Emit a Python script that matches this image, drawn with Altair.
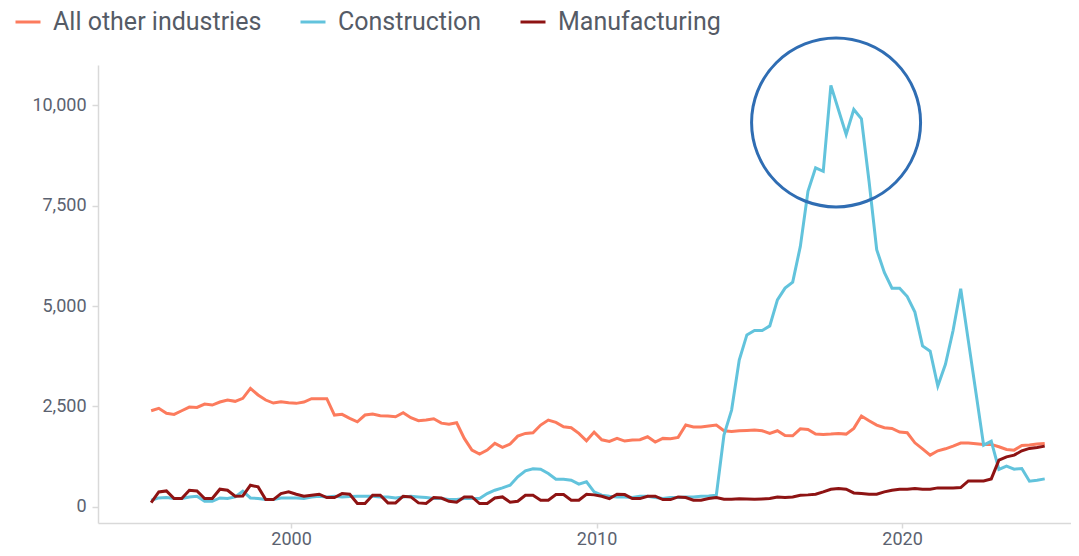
import altair as alt
import pandas as pd

# ---- data (quarterly) ----
start_year = 1995.42
step_years = 0.25

series_names = ["All other industries", "Construction", "Manufacturing"]
series_colors = ["#fc7b5d", "#62c3dc", "#8e1313"]

all_other = [
    2394, 2454, 2329, 2304, 2394, 2486, 2478, 2561, 2536, 2611,
    2661, 2628, 2703, 2952, 2786, 2661, 2586, 2620, 2595, 2578,
    2611, 2694, 2694, 2694, 2287, 2304, 2204, 2120, 2287, 2312,
    2270, 2262, 2245, 2345, 2220, 2145, 2162, 2195, 2085, 2060,
    2095, 1706, 1414, 1314, 1414, 1581, 1481, 1564, 1763, 1830,
    1846, 2038, 2162, 2104, 1996, 1971, 1830, 1646, 1863, 1672,
    1631, 1706, 1639, 1663, 1672, 1746, 1614, 1706, 1697, 1731,
    2038, 1988, 1988, 2013, 2038, 1896, 1880, 1896, 1905, 1913,
    1896, 1830, 1896, 1780, 1772, 1945, 1930, 1813, 1805, 1813,
    1830, 1813, 1955, 2262, 2145, 2037, 1971, 1955, 1863, 1846,
    1596, 1447, 1289, 1397, 1447, 1514, 1589, 1589, 1572, 1556,
    1556, 1497, 1431, 1414, 1531, 1539, 1564, 1581,
]

construction = [
    166, 224, 233, 209, 209, 249, 266, 141, 141, 224,
    209, 249, 391, 224, 209, 183, 183, 224, 224, 224,
    209, 249, 266, 249, 266, 249, 258, 266, 266, 266,
    249, 249, 224, 249, 266, 249, 233, 209, 208, 183,
    183, 208, 208, 208, 333, 416, 474, 540, 749, 898,
    948, 940, 833, 691, 691, 666, 566, 624, 374, 291,
    266, 249, 249, 233, 266, 266, 233, 208, 233, 233,
    249, 249, 266, 274, 291, 1788, 2411, 3658, 4282, 4390,
    4390, 4506, 5155, 5446, 5597, 6484, 7856, 8440, 8355, 10492,
    9880, 9270, 9893, 9662, 8100, 6402, 5836, 5446, 5446, 5237,
    4850, 4008, 3875, 3010, 3550, 4390, 5430, 4133, 2836, 1539,
    1638, 933, 1015, 940, 957, 641, 666, 698,
]

manufacturing = [
    110, 374, 399, 209, 209, 416, 399, 209, 209, 441,
    416, 266, 274, 541, 499, 183, 183, 333, 374, 316,
    266, 291, 316, 233, 233, 333, 316, 85, 85, 291,
    291, 100, 100, 266, 249, 100, 85, 233, 220, 140,
    116, 249, 249, 85, 85, 224, 249, 116, 141, 291,
    291, 166, 166, 308, 308, 166, 166, 316, 300, 266,
    208, 316, 308, 208, 208, 266, 266, 183, 183, 249,
    233, 166, 166, 208, 233, 190, 190, 205, 200, 191,
    200, 208, 249, 233, 249, 291, 300, 316, 374, 441,
    457, 441, 349, 333, 316, 316, 374, 416, 441, 441,
    457, 441, 441, 474, 474, 474, 482, 648, 648, 648,
    698, 1164, 1247, 1289, 1397, 1456, 1481, 1514,
]

# annotation circle around the construction peak (data units)
circle_year = [2017.84]
circle_value = [9570]

y_ticks = [0, 2500, 5000, 7500, 10000]
x_ticks = [2000, 2010, 2020]

# ---- build table ----
years = [start_year + step_years * i for i in range(len(all_other))]
rows = []
for name, vals in zip(series_names, [all_other, construction, manufacturing]):
    for yr, v in zip(years, vals):
        rows.append({"year": yr, "value": v, "series": name})
df = pd.DataFrame(rows)
df_circle = pd.DataFrame({"year": circle_year, "value": circle_value})

x_scale = alt.Scale(domain=[1993.68, 2025.53], nice=False, zero=False)
y_scale = alt.Scale(domain=[-400, 11000], nice=False, zero=False)

axis_common = dict(
    title=None,
    grid=False,
    domainColor="#d9d9d9",
    domainWidth=1.5,
    tickColor="#d9d9d9",
    tickWidth=1.5,
    labelColor="#5b6270",
    labelFont="Roboto",
    labelFontSize=18,
)

lines = alt.Chart(df).mark_line(strokeWidth=3).encode(
    x=alt.X("year:Q", scale=x_scale,
            axis=alt.Axis(values=x_ticks, format="d", tickSize=5, labelPadding=2, **axis_common)),
    y=alt.Y("value:Q", scale=y_scale,
            axis=alt.Axis(values=y_ticks, format=",.0f", tickSize=6, labelPadding=6, **axis_common)),
    color=alt.Color(
        "series:N",
        scale=alt.Scale(domain=series_names, range=series_colors),
        legend=alt.Legend(
            title=None,
            orient="none",
            direction="horizontal",
            legendX=-84,
            legendY=-57,
            symbolType="stroke",
            symbolSize=625,
            symbolStrokeWidth=3,
            labelFont="Roboto",
            labelFontSize=25,
            labelLimit=0,
            labelColor="#555b66",
            labelOffset=11,
            columnPadding=32,
        ),
    ),
    detail="series:N",
)

circle = alt.Chart(df_circle).mark_point(
    shape="circle", size=28561, filled=False, strokeWidth=3, color="#2f6db3", opacity=1
).encode(
    x=alt.X("year:Q", scale=x_scale),
    y=alt.Y("value:Q", scale=y_scale),
)

chart = alt.layer(lines, circle).properties(
    width=973,
    height=458,
    autosize=alt.AutoSizeParams(type="none"),
    padding={"left": 90, "top": 57, "right": 0, "bottom": 25},
).configure_view(stroke=None)

chart.save("out.html", embed_options={"renderer": "svg", "actions": False})
